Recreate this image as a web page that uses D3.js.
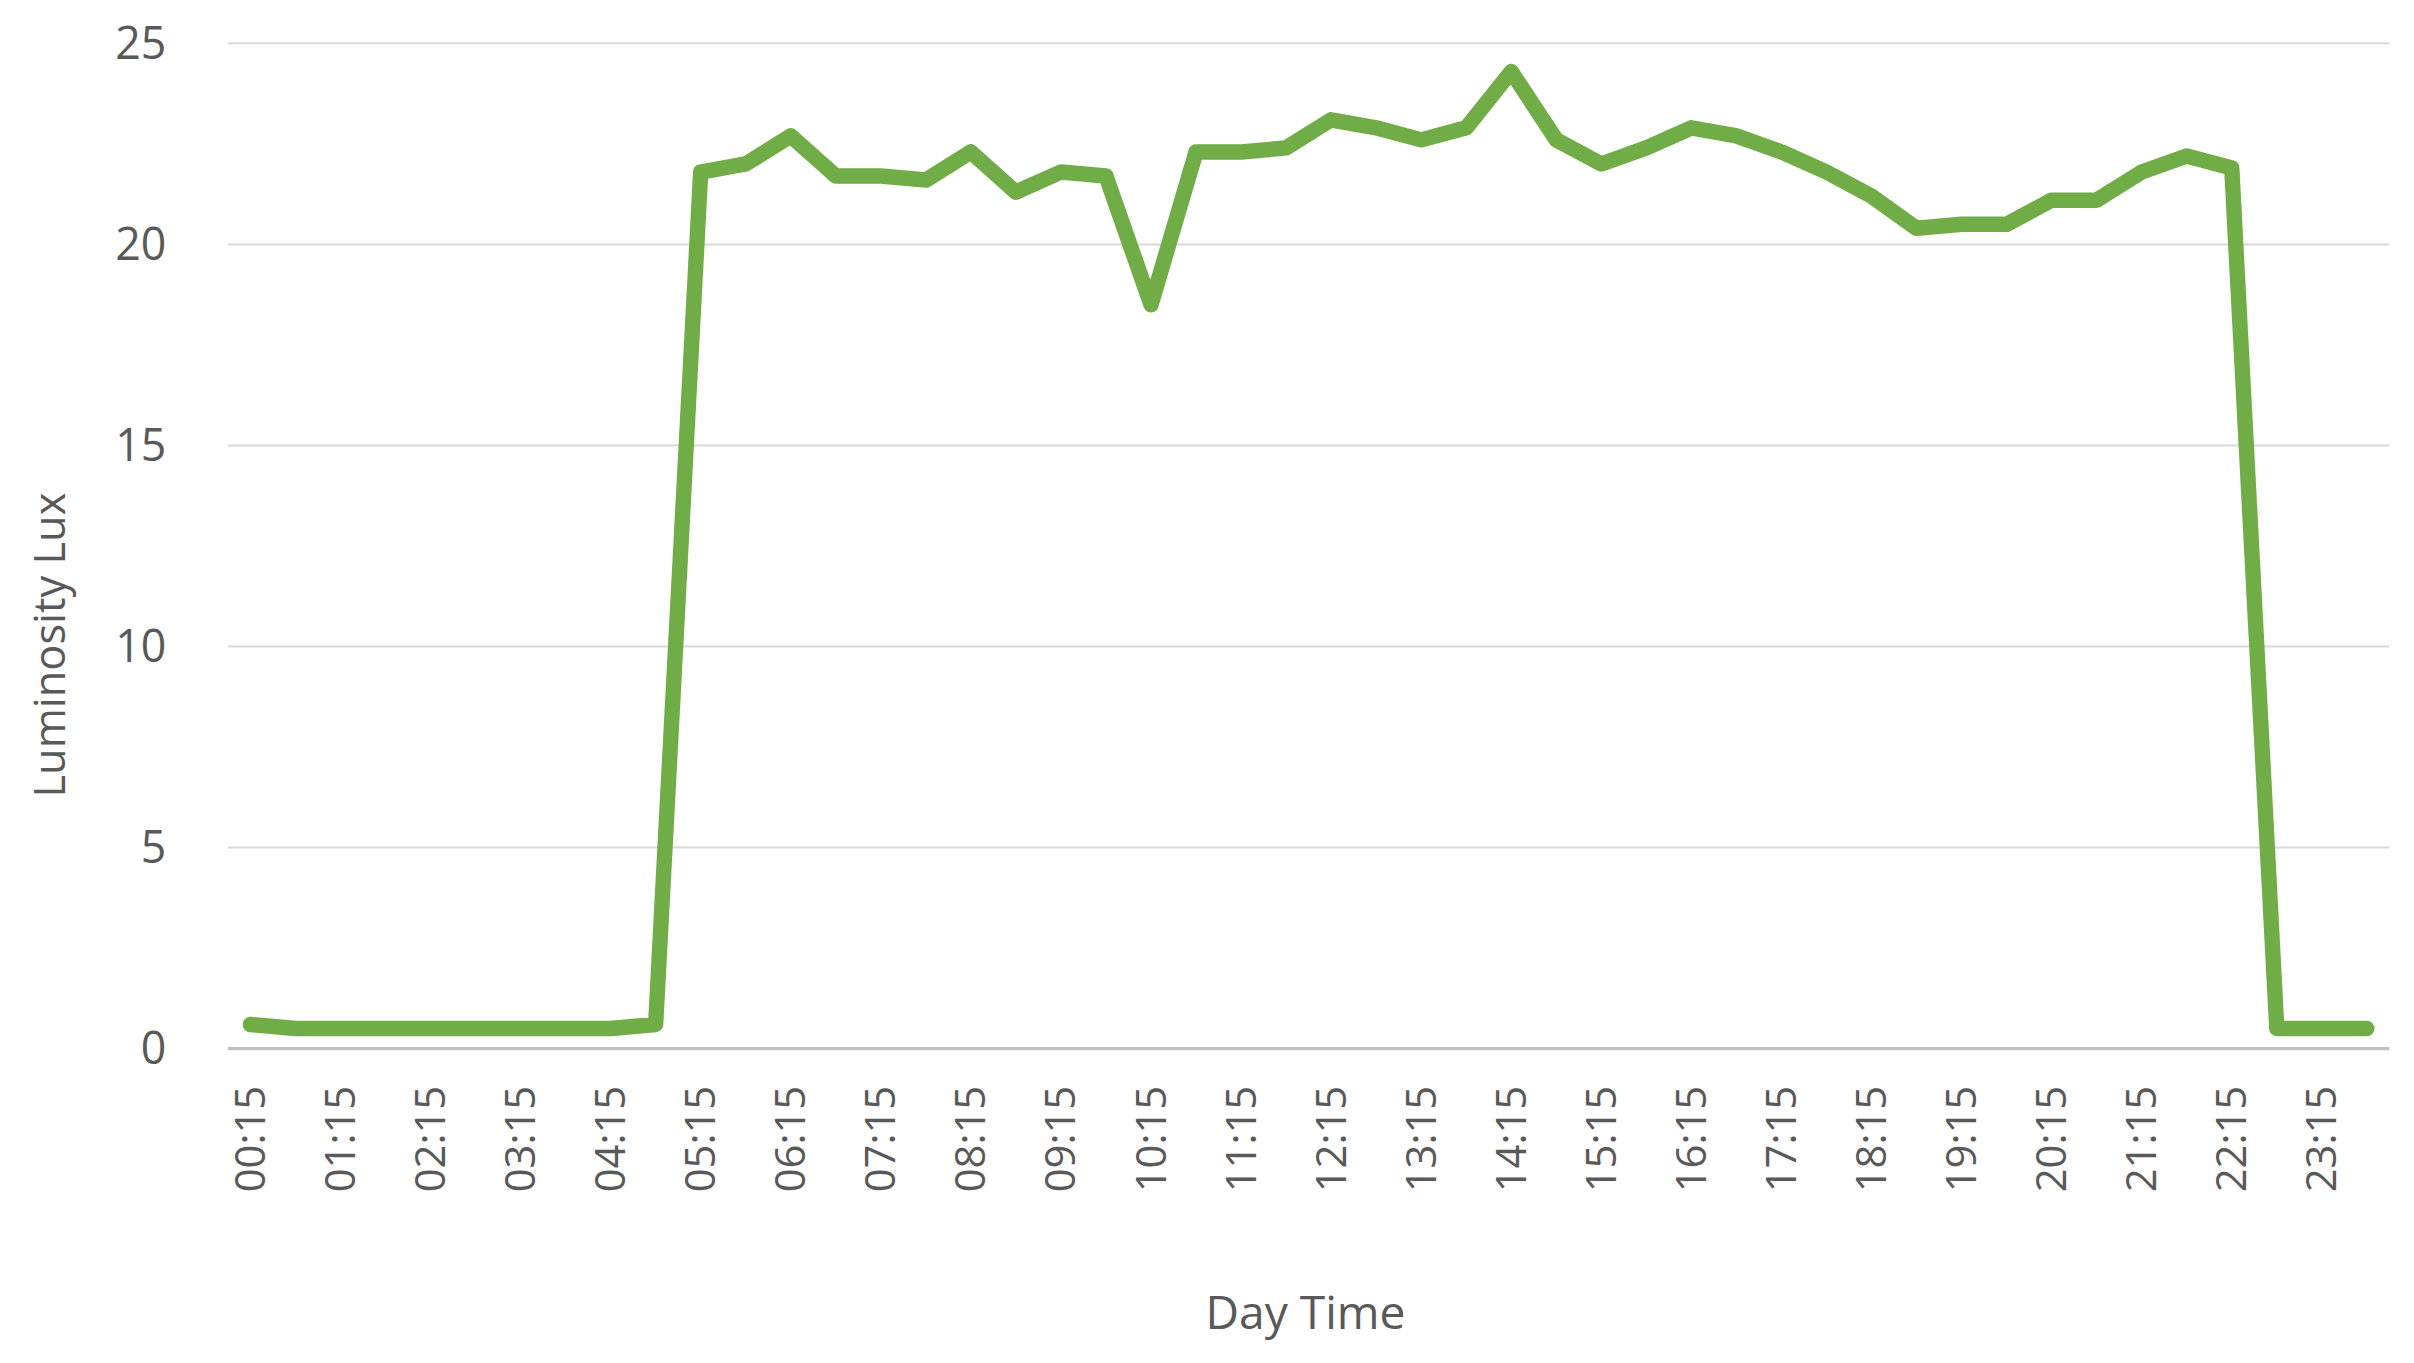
<!DOCTYPE html>
<html><head><meta charset="utf-8">
<script src="https://cdn.jsdelivr.net/npm/d3@7"></script>
<style>body{margin:0;background:#fff}</style></head>
<body><svg id="c"></svg>
<script>
const times = ["00:15","00:45","01:15","01:45","02:15","02:45","03:15","03:45","04:15","04:45","05:15","05:45","06:15","06:45","07:15","07:45","08:15","08:45","09:15","09:45","10:15","10:45","11:15","11:45","12:15","12:45","13:15","13:45","14:15","14:45","15:15","15:45","16:15","16:45","17:15","17:45","18:15","18:45","19:15","19:45","20:15","20:45","21:15","21:45","22:15","22:45","23:15","23:45"];
const lux = [0.6,0.5,0.5,0.5,0.5,0.5,0.5,0.5,0.5,0.6,21.8,22.0,22.7,21.7,21.7,21.6,22.3,21.3,21.8,21.7,18.5,22.3,22.3,22.4,23.1,22.9,22.6,22.9,24.3,22.6,22.0,22.4,22.9,22.7,22.3,21.8,21.2,20.4,20.5,20.5,21.1,21.1,21.8,22.2,21.9,0.5,0.5,0.5];
const yTicks = [0,5,10,15,20,25];

const W=1568,H=880;
const svg=d3.select("#c").attr("width",2414).attr("height",1363)
  .attr("viewBox",`0 0 ${W} ${H}`).attr("preserveAspectRatio","none");
const L=148,R=1552,T=28,B=677;
const x=d3.scaleBand().domain(times).range([L,R]);
const y=d3.scaleLinear().domain([0,25]).range([B,T]);
const font="'Open Sans', sans-serif", grey="#595959";

const g=svg.append("g");
g.selectAll(".grid").data(yTicks).join("line")
  .attr("x1",L).attr("x2",R).attr("y1",d=>y(d)).attr("y2",d=>y(d))
  .attr("stroke",d=>d===0?"#bfbfbf":"#d9d9d9").attr("stroke-width",d=>d===0?2:1.3);
g.selectAll(".yl").data(yTicks).join("text")
  .attr("x",108).attr("y",d=>y(d)).attr("dy","0.35em").attr("text-anchor","end")
  .attr("font-family",font).attr("font-size",29).attr("fill",grey).text(d=>d);
g.selectAll(".xl").data(times.filter((d,i)=>i%2===0)).join("text")
  .attr("transform",d=>`translate(${x(d)+x.bandwidth()/2},${B+24}) rotate(-90)`)
  .attr("text-anchor","end").attr("dy","0.35em")
  .attr("font-family",font).attr("font-size",27).attr("fill",grey).text(d=>d);
svg.append("path").datum(lux)
  .attr("d",d3.line().x((d,i)=>x(times[i])+x.bandwidth()/2).y(d=>y(d)))
  .attr("fill","none").attr("stroke","#70ad47").attr("stroke-width",10)
  .attr("stroke-linejoin","round").attr("stroke-linecap","round");
svg.append("text").attr("transform",`translate(42,${(T+B)/2+64}) rotate(-90)`)
  .attr("text-anchor","middle").attr("font-family",font).attr("font-size",28).attr("fill",grey).text("Luminosity Lux");
svg.append("text").attr("x",848).attr("y",858).attr("text-anchor","middle")
  .attr("font-family",font).attr("font-size",30).attr("fill",grey).text("Day Time");
</script></body></html>
